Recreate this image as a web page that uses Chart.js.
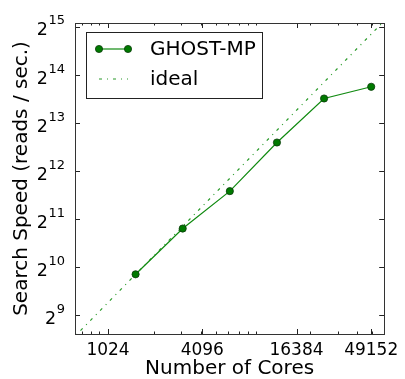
<!DOCTYPE html>
<html>
<head>
<meta charset="utf-8">
<script src="https://cdn.jsdelivr.net/npm/chart.js"></script>
<style>
  body { margin: 0; background: #fff; }
  canvas { display: block; }
</style>
</head>
<body>
<canvas id="chart" width="405" height="379"></canvas>
<script>
  const cores = [1536, 3072, 6144, 12288, 24576, 49152];
  const speed = [925, 1790, 3070, 6190, 11680, 13830];

  const idealCores = [512, 65536];
  const idealSpeed = [308, 39400];

  const xTicks = [1024, 4096, 16384, 49152];
  const xMinorTicks = [700, 800, 900, 2000, 3000, 4000, 5000, 6000, 7000, 8000, 9000, 20000, 30000, 40000, 50000];
  const yTickExps = [9, 10, 11, 12, 13, 14, 15];

  const FONT = 'DejaVu Sans';

  // ticks pointing inward on all four sides, plus the frame
  const frameTicks = {
    id: 'frameTicks',
    afterDatasetsDraw(chart) {
      const {ctx, chartArea: a, scales: {x, y}} = chart;
      ctx.save();
      ctx.strokeStyle = '#222';
      ctx.lineWidth = 1;
      const tick = (px, py, dx, dy) => {
        ctx.beginPath();
        ctx.moveTo(px, py);
        ctx.lineTo(px + dx, py + dy);
        ctx.stroke();
      };
      xTicks.forEach(v => {
        const px = Math.round(x.getPixelForValue(v)) + 0.5;
        tick(px, a.bottom, 0, -5);
        tick(px, a.top, 0, 5);
      });
      xMinorTicks.forEach(v => {
        const px = Math.round(x.getPixelForValue(v)) + 0.5;
        tick(px, a.bottom, 0, -2.5);
        tick(px, a.top, 0, 2.5);
      });
      yTickExps.forEach(e => {
        const py = Math.round(y.getPixelForValue(Math.pow(2, e))) + 0.5;
        tick(a.left, py, 5, 0);
        tick(a.right, py, -5, 0);
      });
      ctx.strokeStyle = '#333';
      ctx.strokeRect(Math.round(a.left) + 0.5, Math.round(a.top) + 0.5,
        Math.round(a.right - a.left), Math.round(a.bottom - a.top));
      ctx.restore();
    }
  };

  // y tick labels as 2 with a raised exponent, like mathtext
  const powerLabels = {
    id: 'powerLabels',
    afterDraw(chart) {
      const {ctx, chartArea: a, scales: {y}} = chart;
      ctx.save();
      ctx.fillStyle = '#000';
      ctx.textBaseline = 'alphabetic';
      ctx.textAlign = 'right';
      yTickExps.forEach(e => {
        const py = y.getPixelForValue(Math.pow(2, e));
        const right = a.left - 10;
        ctx.font = '13px "' + FONT + '"';
        const ew = ctx.measureText(String(e)).width;
        ctx.fillText(String(e), right, py - 2.5);
        ctx.font = '17.5px "' + FONT + '"';
        ctx.fillText('2', right - ew - 0.5, py + 8.5);
      });
      ctx.restore();
    }
  };

  // matplotlib-like legend box in the upper left of the axes
  const boxLegend = {
    id: 'boxLegend',
    afterDraw(chart) {
      const {ctx, chartArea: a} = chart;
      const bx = a.left + 11, by = a.top + 9, bw = 176, bh = 66;
      ctx.save();
      ctx.fillStyle = '#fff';
      ctx.fillRect(bx, by, bw, bh);
      ctx.strokeStyle = '#222';
      ctx.lineWidth = 1;
      ctx.strokeRect(Math.round(bx) + 0.5, Math.round(by) + 0.5, bw, bh);
      chart.data.datasets.forEach((ds, i) => {
        const ly = by + 17 + i * 30;
        const x0 = bx + 13, x1 = bx + 42;
        ctx.strokeStyle = ds.borderColor;
        ctx.lineWidth = ds.borderWidth;
        ctx.setLineDash(ds.borderDash || []);
        ctx.beginPath();
        ctx.moveTo(x0, ly);
        ctx.lineTo(x1, ly);
        ctx.stroke();
        ctx.setLineDash([]);
        if (ds.pointRadius > 0) {
          [x0, x1].forEach(px => {
            ctx.beginPath();
            ctx.arc(px, ly, ds.pointRadius, 0, Math.PI * 2);
            ctx.fillStyle = ds.pointBackgroundColor;
            ctx.fill();
            ctx.lineWidth = ds.pointBorderWidth;
            ctx.strokeStyle = ds.pointBorderColor;
            ctx.stroke();
          });
        }
        ctx.fillStyle = '#000';
        ctx.font = '20px "' + FONT + '"';
        ctx.textBaseline = 'middle';
        ctx.fillText(ds.label, bx + 64, ly + 1);
      });
      ctx.restore();
    }
  };

  new Chart(document.getElementById('chart'), {
    type: 'line',
    data: {
      datasets: [{
        label: 'GHOST-MP',
        data: cores.map((c, i) => ({x: c, y: speed[i]})),
        borderColor: '#108a10',
        borderWidth: 1.2,
        pointRadius: 3.6,
        pointBackgroundColor: '#007a00',
        pointBorderColor: '#0a3a0a',
        pointBorderWidth: 0.8,
        tension: 0
      }, {
        label: 'ideal',
        data: idealCores.map((c, i) => ({x: c, y: idealSpeed[i]})),
        borderColor: '#2a9a2a',
        borderWidth: 1.2,
        borderDash: [3, 5, 1, 5],
        pointRadius: 0,
        tension: 0
      }]
    },
    options: {
      responsive: false,
      animation: false,
      layout: {padding: {top: 23, right: 18, left: 0, bottom: 0}},
      plugins: {legend: {display: false}, tooltip: {enabled: false}},
      scales: {
        x: {
          type: 'logarithmic',
          min: 630,
          max: 59500,
          grid: {display: false, drawTicks: false},
          border: {display: false},
          afterBuildTicks: (s) => { s.ticks = xTicks.map(v => ({value: v})); },
          afterFit: (s) => { s.height = 45; },
          ticks: {
            autoSkip: false,
            maxRotation: 0,
            padding: 6,
            color: '#000',
            font: {family: FONT, size: 17},
            callback: (v) => String(v)
          },
          title: {
            display: true,
            text: 'Number of Cores',
            color: '#000',
            font: {family: FONT, size: 20, lineHeight: 1.0},
            padding: {top: 0, bottom: 0}
          }
        },
        y: {
          type: 'logarithmic',
          min: 391,
          max: 34700,
          grid: {display: false, drawTicks: false},
          border: {display: false},
          afterBuildTicks: (s) => { s.ticks = yTickExps.map(e => ({value: Math.pow(2, e)})); },
          afterFit: (s) => { s.width = 75; },
          ticks: {display: false},
          title: {
            display: true,
            text: 'Search Speed (reads / sec.)',
            color: '#000',
            font: {family: FONT, size: 20},
            padding: {top: 10, bottom: 0}
          }
        }
      }
    },
    plugins: [frameTicks, powerLabels, boxLegend]
  });
</script>
</body>
</html>
